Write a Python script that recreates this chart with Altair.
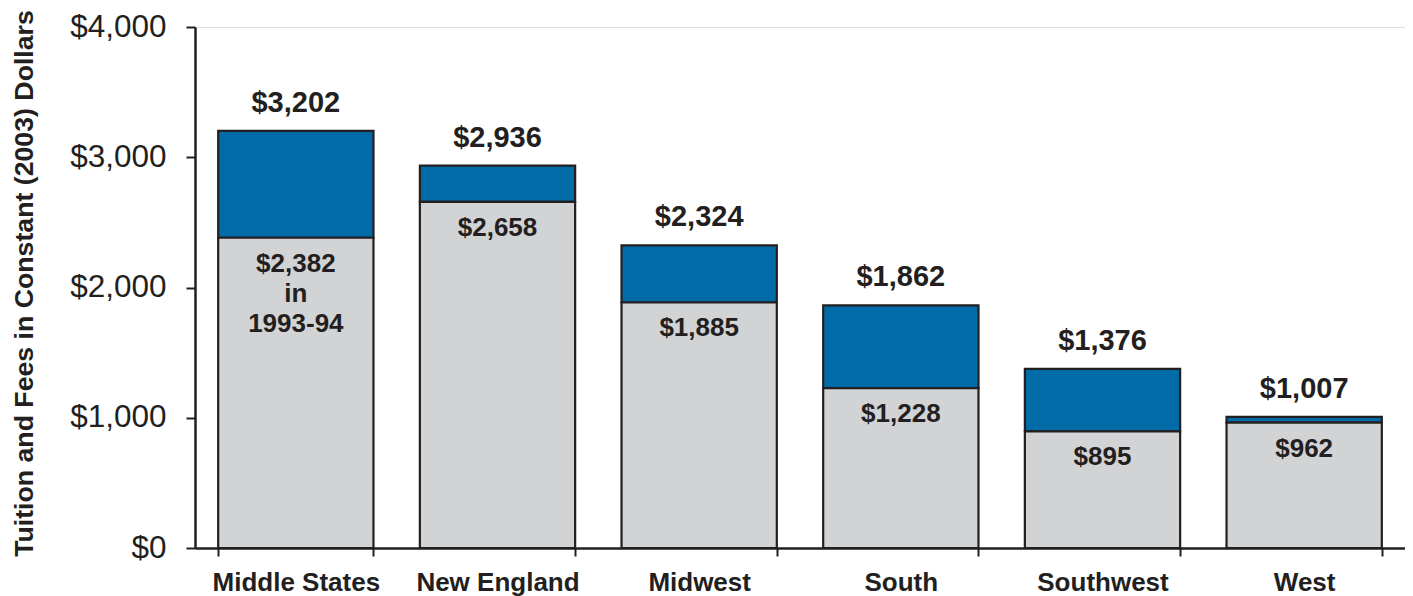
import altair as alt
import pandas as pd

regions = ["Middle States", "New England", "Midwest", "South", "Southwest", "West"]
totals_2003 = [3202, 2936, 2324, 1862, 1376, 1007]
base_1993 = [2382, 2658, 1885, 1228, 895, 962]
y_ticks = [0, 1000, 2000, 3000, 4000]

base_labels = [f"${v:,}" for v in base_1993]
base_labels[0] = base_labels[0] + "\nin\n1993-94"
total_labels = [f"${v:,}" for v in totals_2003]

df = pd.DataFrame({
    "region": regions,
    "total": totals_2003,
    "base": base_1993,
    "base_label": base_labels,
    "total_label": total_labels,
})

INK = "#231F20"
BLUE = "#006BA6"
GRAY = "#D1D3D4"
FONT = "Liberation Sans"
TITLE = "Tuition and Fees in Constant (2003) Dollars"

x_enc = alt.X(
    "region:N",
    sort=regions,
    scale=alt.Scale(paddingInner=0.23, paddingOuter=0.115),
    axis=alt.Axis(
        title=None, labelAngle=0, tickBand="extent", tickSize=8, tickWidth=2,
        tickColor=INK, domainColor=INK, domainWidth=2.5, labelFont=FONT,
        labelFontSize=26, labelFontWeight="bold", labelColor=INK, labelPadding=13,
        labelBaseline="top",
    ),
)

y_axis = alt.Axis(
    title=TITLE, values=y_ticks, format="$,.0f", grid=False, tickSize=9, tickWidth=2,
    tickColor=INK, domainColor=INK, domainWidth=2.5, labelFont=FONT, labelFontSize=31.5,
    labelColor=INK, labelPadding=20, titleFont=FONT, titleFontSize=26.7,
    titleFontWeight="bold", titleColor=INK, titleX=-163, titleY=256, titleAngle=-90,
    titleAlign="center", titleBaseline="alphabetic",
)
y_scale = alt.Scale(domain=[0, 4000], nice=False)

base = alt.Chart(df)

blue = base.mark_bar(color=BLUE, stroke=INK, strokeWidth=2.2).encode(
    x=x_enc,
    y=alt.Y("total:Q", scale=y_scale, axis=y_axis, title=TITLE),
    y2="base:Q",
)
gray = base.mark_bar(color=GRAY, stroke=INK, strokeWidth=2.2).encode(
    x=x_enc,
    y=alt.Y("base:Q", scale=y_scale, axis=y_axis, title=TITLE),
)
top_text = base.mark_text(
    font=FONT, fontSize=29, fontWeight="bold", color=INK, baseline="middle", dy=-28
).encode(
    x=x_enc,
    y=alt.Y("total:Q", scale=y_scale, axis=y_axis, title=TITLE),
    text="total_label:N",
)
inner_text = base.mark_text(
    font=FONT, fontSize=26, fontWeight="bold", color=INK, baseline="top", dy=13,
    lineBreak="\n", lineHeight=30,
).encode(
    x=x_enc,
    y=alt.Y("base:Q", scale=y_scale, axis=y_axis, title=TITLE),
    text="base_label:N",
)

chart = alt.layer(blue, gray, top_text, inner_text).properties(
    width=1210,
    height=521,
    padding={"left": 187, "top": 19, "right": 0, "bottom": 48},
    autosize=alt.AutoSizeParams(type="none"),
).configure_view(stroke=None).configure(background="white")

chart.save("out.html", embed_options={"renderer": "svg", "actions": False})
